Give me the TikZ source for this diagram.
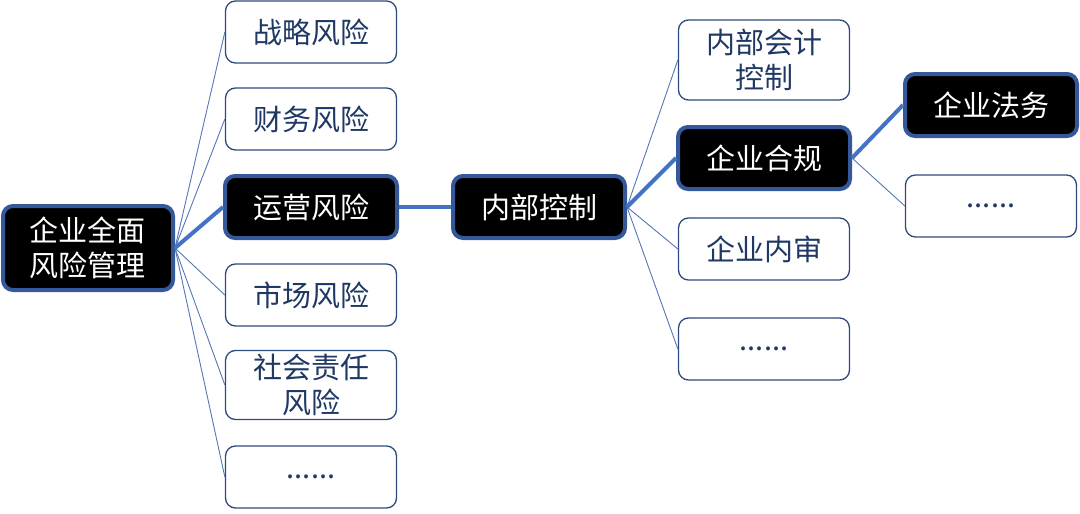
\documentclass[tikz,border=0pt]{standalone}
\usepackage{fontspec}
\setmainfont{Noto Sans CJK SC}
\definecolor{thickln}{HTML}{4472C4}
\definecolor{darkbd}{HTML}{34589A}
\definecolor{thinbd}{HTML}{2E4A7D}
\definecolor{navytxt}{HTML}{1F3864}
\definecolor{thinln}{HTML}{5577B5}
\begin{document}
\begin{tikzpicture}[x=1pt,y=-1pt,
  lightbox/.style={draw=thinbd,line width=1.3pt,fill=white,rounded corners=10pt,
    minimum width=171pt,minimum height=62pt,inner sep=0pt,text=navytxt,
    font=\fontsize{29}{35}\selectfont,align=center},
  darkbox/.style={draw=darkbd,line width=4pt,fill=black,rounded corners=10pt,
    minimum width=172pt,minimum height=62pt,inner sep=0pt,text=white,
    font=\fontsize{29}{35}\selectfont,align=center},
  thinlink/.style={draw=thinln,line width=0.9pt},
  thicklink/.style={draw=thickln,line width=4pt},
]
\useasboundingbox (0,0) rectangle (1080,514);
% root
\node[darkbox,minimum width=170pt,minimum height=84pt] (root) at (88,248) {企业全面\\风险管理};
% left column
\node[lightbox] (s1) at (311,32) {战略风险};
\node[lightbox] (s2) at (311,119) {财务风险};
\node[darkbox] (s3) at (311,207) {运营风险};
\node[lightbox] (s4) at (311,295) {市场风险};
\node[lightbox,minimum height=69pt] (s5) at (311,385) {社会责任\\风险};
\node[lightbox] (s6) at (311,477) {......};
% middle
\node[darkbox] (ic) at (539,207) {内部控制};
% right column
\node[lightbox,minimum height=80pt] (r1) at (764,60) {内部会计\\控制};
\node[darkbox] (r2) at (764,158) {企业合规};
\node[lightbox] (r3) at (764,249) {企业内审};
\node[lightbox] (r4) at (764,349) {......};
% far right
\node[darkbox] (f1) at (991,105) {企业法务};
\node[lightbox] (f2) at (991,206) {......};
% connectors
\foreach \n in {s1,s2,s4,s5,s6} \draw[thinlink] (root.east) -- (\n.west);
\draw[thicklink] (root.east) -- (s3.west);
\draw[thicklink] (s3.east) -- (ic.west);
\foreach \n in {r1,r3,r4} \draw[thinlink] (ic.east) -- (\n.west);
\draw[thicklink] (ic.east) -- (r2.west);
\draw[thicklink] (r2.east) -- (f1.west);
\draw[thinlink] (r2.east) -- (f2.west);
\end{tikzpicture}
\end{document}
